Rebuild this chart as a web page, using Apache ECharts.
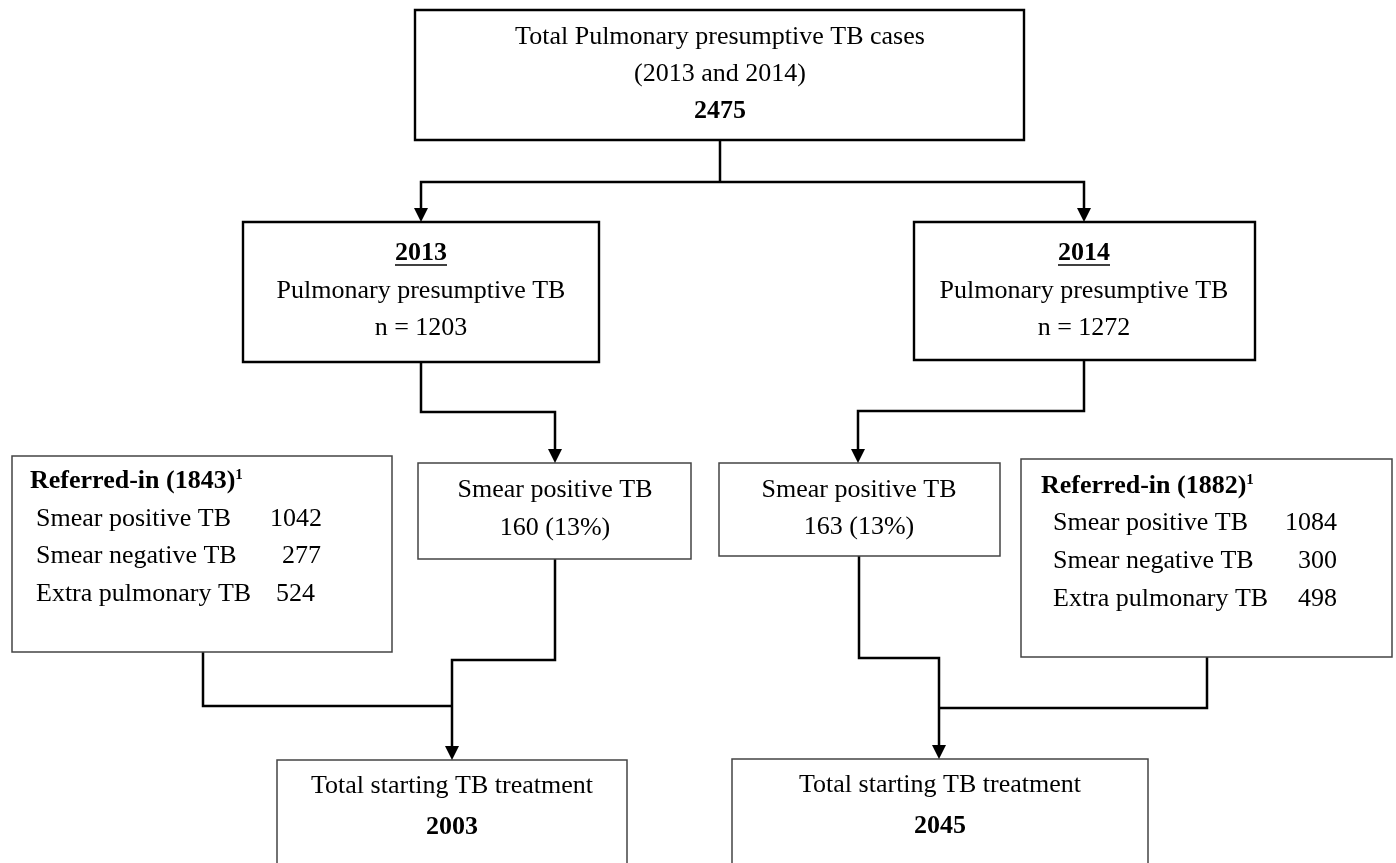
<!DOCTYPE html>
<html>
<head>
<meta charset="utf-8">
<script src="https://cdn.jsdelivr.net/npm/echarts@6/dist/echarts.min.js"></script>
<style>
  html, body { margin: 0; padding: 0; background: #fff; }
  #flow { width: 1396px; height: 863px; }
</style>
</head>
<body>
<div id="flow"></div>
<script>
// values
const totalCases = 2475;
const years = ['2013', '2014'];
const yearCases = [1203, 1272];
const smearPositive = [160, 163];
const smearPct = [13, 13];
const referredTotal = [1843, 1882];
const referredCats = ['Smear positive TB', 'Smear negative TB', 'Extra pulmonary TB'];
const referred2013 = [1042, 277, 524];
const referred2014 = [1084, 300, 498];
const startingTreatment = [2003, 2045];

const chart = echarts.init(document.getElementById('flow'));
const FONT = '"Liberation Serif", "DejaVu Serif", serif';
const FS = 26;

// box geometry (left, top, width, height)
const boxes = {
  top: [415, 10, 609, 130],
  y2013: [243, 222, 356, 140],
  y2014: [914, 222, 341, 138],
  smear2013: [418, 463, 273, 96],
  smear2014: [719, 463, 281, 93],
  ref2013: [12, 456, 380, 196],
  ref2014: [1021, 459, 371, 198],
  tot2013: [277, 760, 350, 120],
  tot2014: [732, 759, 416, 120]
};

const els = [];

function box(b, lw, stroke) {
  els.push({
    type: 'rect',
    shape: { x: b[0], y: b[1], width: b[2], height: b[3] },
    style: { fill: '#fff', stroke: stroke || '#000', lineWidth: lw }
  });
}

function text(x, y, str, opts) {
  opts = opts || {};
  els.push({
    type: 'text', x: x, y: y, z: 10,
    style: {
      text: str,
      fontFamily: FONT,
      fontSize: opts.size || FS,
      fontWeight: opts.bold ? 'bold' : 'normal',
      fill: '#000',
      align: opts.align || 'center',
      verticalAlign: 'middle',
      rich: opts.rich
    }
  });
}

function path(points) {
  els.push({
    type: 'polyline',
    shape: { points: points },
    style: { stroke: '#000', lineWidth: 2.5, fill: null }
  });
}

function arrow(x, yTip) {
  els.push({
    type: 'polygon', z: 5,
    shape: { points: [[x - 7, yTip - 14], [x + 7, yTip - 14], [x, yTip]] },
    style: { fill: '#000' }
  });
}

// connectors
path([[720, 140], [720, 182]]);
path([[421, 210], [421, 182], [1084, 182], [1084, 210]]);
arrow(421, 222);
arrow(1084, 222);

path([[421, 362], [421, 412], [555, 412], [555, 451]]);
arrow(555, 463);
path([[1084, 360], [1084, 411], [858, 411], [858, 451]]);
arrow(858, 463);

path([[203, 652], [203, 706], [452, 706]]);
path([[555, 559], [555, 660], [452, 660], [452, 748]]);
arrow(452, 760);

path([[1207, 657], [1207, 708], [939, 708]]);
path([[859, 556], [859, 658], [939, 658], [939, 747]]);
arrow(939, 759);

// boxes
box(boxes.top, 2.4);
box(boxes.y2013, 2.4);
box(boxes.y2014, 2.4);
box(boxes.smear2013, 1.5, '#444');
box(boxes.smear2014, 1.5, '#444');
box(boxes.ref2013, 1.5, '#444');
box(boxes.ref2014, 1.5, '#444');
box(boxes.tot2013, 1.5, '#444');
box(boxes.tot2014, 1.5, '#444');

// top box
text(720, 37, 'Total Pulmonary presumptive TB cases');
text(720, 74, '(' + years[0] + ' and ' + years[1] + ')');
text(720, 111, String(totalCases), { bold: true });

// year boxes
const yearCx = [421, 1084];
years.forEach(function (yr, i) {
  const cx = yearCx[i];
  text(cx, 253, yr, { bold: true });
  els.push({
    type: 'line',
    shape: { x1: cx - 26, y1: 265, x2: cx + 26, y2: 265 },
    style: { stroke: '#000', lineWidth: 1.6 }
  });
  text(cx, 291, 'Pulmonary presumptive TB');
  text(cx, 328, 'n = ' + yearCases[i]);
});

// smear positive boxes
const smearCx = [555, 859];
smearPositive.forEach(function (v, i) {
  text(smearCx[i], 490, 'Smear positive TB');
  text(smearCx[i], 528 - i, v + ' (' + smearPct[i] + '%)');
});

// referred-in boxes
const refRich = {
  b: { fontFamily: FONT, fontSize: FS, fontWeight: 'bold', fill: '#000' },
  s: { fontFamily: FONT, fontSize: 15, fontWeight: 'bold', fill: '#000', verticalAlign: 'top' }
};
text(30, 481, '{b|Referred-in (' + referredTotal[0] + ')}{s|1}', { align: 'left', rich: refRich });
text(1041, 486, '{b|Referred-in (' + referredTotal[1] + ')}{s|1}', { align: 'left', rich: refRich });

const rowY2013 = [519, 556, 594];
const rowY2014 = [523, 561, 599];
const valX2013 = [270, 282, 276];
referredCats.forEach(function (cat, i) {
  text(36, rowY2013[i], cat, { align: 'left' });
  text(valX2013[i], rowY2013[i], String(referred2013[i]), { align: 'left' });
  text(1053, rowY2014[i], cat, { align: 'left' });
  text(1337, rowY2014[i], String(referred2014[i]), { align: 'right' });
});

// treatment boxes
const totCx = [452, 940];
startingTreatment.forEach(function (v, i) {
  text(totCx[i], 786 - i, 'Total starting TB treatment');
  text(totCx[i], 827 - i, String(v), { bold: true });
});

chart.setOption({
  animation: false,
  graphic: { elements: els }
});
</script>
</body>
</html>
